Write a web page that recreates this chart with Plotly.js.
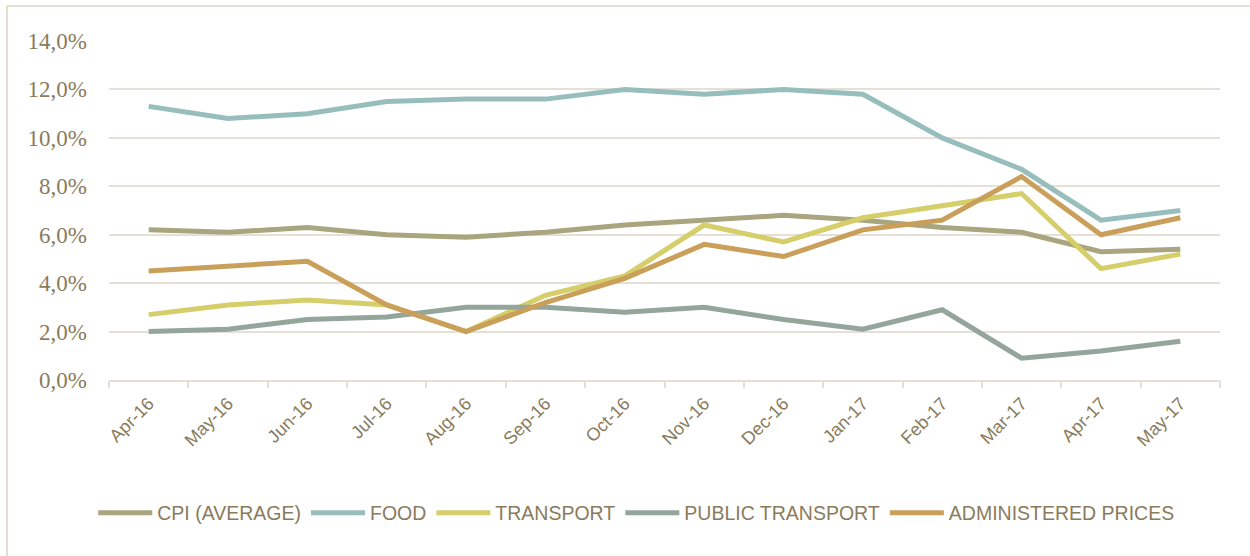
<!DOCTYPE html>
<html>
<head>
<meta charset="utf-8">
<script src="https://cdn.plot.ly/plotly-3.0.1.min.js"></script>
<style>
  html, body { margin: 0; padding: 0; background: #ffffff; }
  #chart { width: 1250px; height: 556px; }
</style>
</head>
<body>
<div id="chart"></div>
<script>
const months = ["Apr-16","May-16","Jun-16","Jul-16","Aug-16","Sep-16","Oct-16","Nov-16","Dec-16","Jan-17","Feb-17","Mar-17","Apr-17","May-17"];
const cpiAverage = [6.2, 6.1, 6.3, 6.0, 5.9, 6.1, 6.4, 6.6, 6.8, 6.6, 6.3, 6.1, 5.3, 5.4];
const food = [11.3, 10.8, 11.0, 11.5, 11.6, 11.6, 12.0, 11.8, 12.0, 11.8, 10.0, 8.7, 6.6, 7.0];
const transport = [2.7, 3.1, 3.3, 3.1, 2.0, 3.5, 4.3, 6.4, 5.7, 6.7, 7.2, 7.7, 4.6, 5.2];
const publicTransport = [2.0, 2.1, 2.5, 2.6, 3.0, 3.0, 2.8, 3.0, 2.5, 2.1, 2.9, 0.9, 1.2, 1.6];
const administeredPrices = [4.5, 4.7, 4.9, 3.1, 2.0, 3.2, 4.2, 5.6, 5.1, 6.2, 6.6, 8.4, 6.0, 6.7];

const seriesNames = ["CPI (AVERAGE)", "FOOD", "TRANSPORT", "PUBLIC TRANSPORT", "ADMINISTERED PRICES"];
const seriesValues = [cpiAverage, food, transport, publicTransport, administeredPrices];
const seriesColors = ["#A9A57E", "#97BEBC", "#D5CE6A", "#94A59C", "#C99F5A"];

const traces = seriesNames.map((name, i) => ({
  type: "scatter",
  mode: "lines",
  name: name,
  x: months,
  y: seriesValues[i],
  line: { color: seriesColors[i], width: 5 },
  hoverinfo: "x+y+name"
}));

// category boundaries for the tick marks between months
const boundaries = months.map((m, i) => i - 0.5).concat([months.length - 0.5]);

// helper trace (no visible marks) so the boundary-tick axis is drawn
traces.push({
  type: "scatter",
  mode: "none",
  x: boundaries,
  y: boundaries.map(() => null),
  xaxis: "x2",
  yaxis: "y",
  showlegend: false,
  hoverinfo: "skip"
});

const textColor = "#8A7B5C";
const gridColor = "#E5E0D5";

const mL = 109, mR = 30, mT = 41, mB = 176, W = 1250, H = 556;
const pw = W - mL - mR, ph = H - mT - mB;
const px = p => (p - mL) / pw;
const py = p => (H - mB - p) / ph;

const layout = {
  width: W,
  height: H,
  margin: { l: mL, r: mR, t: mT, b: mB, pad: 0 },
  paper_bgcolor: "#ffffff",
  plot_bgcolor: "#ffffff",
  separators: ", ",
  showlegend: true,
  xaxis: {
    type: "category",
    range: [-0.5, months.length - 0.5],
    showgrid: false,
    showline: true,
    linecolor: gridColor,
    linewidth: 2,
    ticks: "",
    tickangle: -45,
    ticklabelstandoff: 4,
    tickfont: { family: "Liberation Sans, Arial, sans-serif", size: 18, color: textColor },
    zeroline: false,
    fixedrange: true
  },
  xaxis2: {
    overlaying: "x",
    anchor: "y",
    side: "bottom",
    type: "linear",
    range: [-0.5, months.length - 0.5],
    tickmode: "array",
    tickvals: boundaries,
    showticklabels: false,
    ticks: "outside",
    ticklen: 7,
    tickwidth: 2,
    tickcolor: gridColor,
    showgrid: false,
    showline: false,
    zeroline: false,
    fixedrange: true
  },
  yaxis: {
    range: [0, 14],
    dtick: 2,
    tick0: 0,
    tickformat: ".1f",
    ticksuffix: "%",
    showgrid: true,
    gridcolor: gridColor,
    gridwidth: 2,
    zeroline: false,
    showline: false,
    ticks: "",
    ticklabelstandoff: 21,
    tickfont: { family: "Liberation Serif, Times New Roman, serif", size: 23, color: textColor },
    fixedrange: true
  },
  legend: {
    orientation: "h",
    xref: "container",
    x: 0.509,
    xanchor: "center",
    yref: "container",
    y: (H - 513) / H,
    yanchor: "middle",
    font: { family: "Liberation Sans, Arial, sans-serif", size: 19.5, color: textColor },
    itemwidth: 54,
    traceorder: "normal",
    bgcolor: "rgba(0,0,0,0)"
  },
  shapes: [
    { type: "line", xref: "paper", yref: "paper", x0: px(7), x1: px(7), y0: py(6), y1: py(560),
      line: { color: "#E3DED2", width: 2 }, layer: "below" },
    { type: "line", xref: "paper", yref: "paper", x0: px(7), x1: px(1252), y0: py(6), y1: py(6),
      line: { color: "#E3DED2", width: 2 }, layer: "below" }
  ]
};

Plotly.newPlot("chart", traces, layout, { displayModeBar: false, staticPlot: true });
</script>
</body>
</html>
